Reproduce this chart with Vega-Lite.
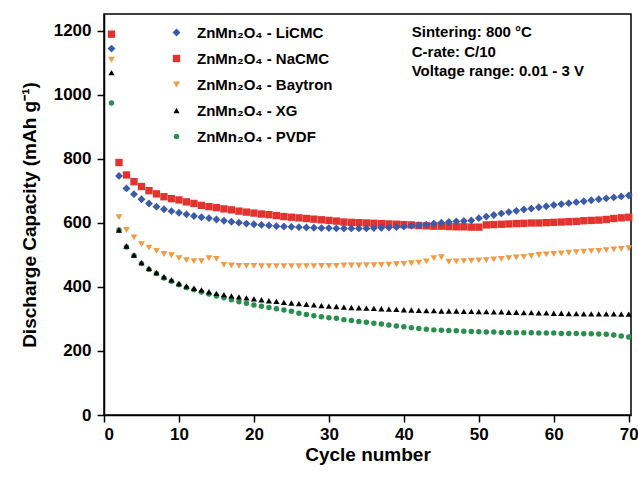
{
  "$schema": "https://vega.github.io/schema/vega-lite/v6.json",
  "width": 527,
  "height": 401,
  "autosize": {"type": "none"},
  "padding": {"left": 104, "top": 14, "right": 7, "bottom": 63},
  "background": "white",
  "data": {"values": [
    {"cycle":1,"LiCMC":1145,"NaCMC":1190,"Baytron":1110,"XG":1070,"PVDF":975},
    {"cycle":2,"LiCMC":747,"NaCMC":789,"Baytron":618,"XG":578,"PVDF":578},
    {"cycle":3,"LiCMC":708,"NaCMC":750,"Baytron":578,"XG":528,"PVDF":525},
    {"cycle":4,"LiCMC":690,"NaCMC":729,"Baytron":555,"XG":500,"PVDF":498},
    {"cycle":5,"LiCMC":674,"NaCMC":714,"Baytron":534,"XG":476,"PVDF":473},
    {"cycle":6,"LiCMC":661,"NaCMC":701,"Baytron":523,"XG":458,"PVDF":455},
    {"cycle":7,"LiCMC":651,"NaCMC":691,"Baytron":513,"XG":445,"PVDF":442},
    {"cycle":8,"LiCMC":643,"NaCMC":682,"Baytron":503,"XG":432,"PVDF":428},
    {"cycle":9,"LiCMC":637,"NaCMC":676,"Baytron":499,"XG":422,"PVDF":418},
    {"cycle":10,"LiCMC":632,"NaCMC":672,"Baytron":490,"XG":411,"PVDF":407},
    {"cycle":11,"LiCMC":627,"NaCMC":666,"Baytron":484,"XG":403,"PVDF":398},
    {"cycle":12,"LiCMC":622,"NaCMC":661,"Baytron":481,"XG":396,"PVDF":391},
    {"cycle":13,"LiCMC":618,"NaCMC":655,"Baytron":481,"XG":391,"PVDF":384},
    {"cycle":14,"LiCMC":615,"NaCMC":651,"Baytron":490,"XG":385,"PVDF":378},
    {"cycle":15,"LiCMC":611,"NaCMC":648,"Baytron":488,"XG":380,"PVDF":372},
    {"cycle":16,"LiCMC":607,"NaCMC":644,"Baytron":469,"XG":376,"PVDF":366},
    {"cycle":17,"LiCMC":604,"NaCMC":641,"Baytron":467,"XG":372,"PVDF":360},
    {"cycle":18,"LiCMC":601,"NaCMC":637,"Baytron":466,"XG":369,"PVDF":354},
    {"cycle":19,"LiCMC":598,"NaCMC":634,"Baytron":466,"XG":366,"PVDF":349},
    {"cycle":20,"LiCMC":596,"NaCMC":631,"Baytron":466,"XG":363,"PVDF":344},
    {"cycle":21,"LiCMC":594,"NaCMC":628,"Baytron":465,"XG":360,"PVDF":340},
    {"cycle":22,"LiCMC":592,"NaCMC":626,"Baytron":465,"XG":357,"PVDF":336},
    {"cycle":23,"LiCMC":590,"NaCMC":623,"Baytron":465,"XG":355,"PVDF":332},
    {"cycle":24,"LiCMC":589,"NaCMC":620,"Baytron":465,"XG":352,"PVDF":328},
    {"cycle":25,"LiCMC":588,"NaCMC":618,"Baytron":465,"XG":350,"PVDF":324},
    {"cycle":26,"LiCMC":587,"NaCMC":616,"Baytron":465,"XG":348,"PVDF":318},
    {"cycle":27,"LiCMC":586,"NaCMC":614,"Baytron":465,"XG":346,"PVDF":314},
    {"cycle":28,"LiCMC":585,"NaCMC":612,"Baytron":465,"XG":344,"PVDF":310},
    {"cycle":29,"LiCMC":584,"NaCMC":610,"Baytron":466,"XG":342,"PVDF":307},
    {"cycle":30,"LiCMC":584,"NaCMC":608,"Baytron":466,"XG":340,"PVDF":304},
    {"cycle":31,"LiCMC":583,"NaCMC":606,"Baytron":466,"XG":339,"PVDF":302},
    {"cycle":32,"LiCMC":583,"NaCMC":603,"Baytron":467,"XG":337,"PVDF":298},
    {"cycle":33,"LiCMC":583,"NaCMC":602,"Baytron":467,"XG":336,"PVDF":295},
    {"cycle":34,"LiCMC":583,"NaCMC":601,"Baytron":467,"XG":335,"PVDF":292},
    {"cycle":35,"LiCMC":583,"NaCMC":600,"Baytron":468,"XG":334,"PVDF":290},
    {"cycle":36,"LiCMC":584,"NaCMC":599,"Baytron":468,"XG":333,"PVDF":287},
    {"cycle":37,"LiCMC":585,"NaCMC":598,"Baytron":469,"XG":332,"PVDF":284},
    {"cycle":38,"LiCMC":586,"NaCMC":597,"Baytron":470,"XG":331,"PVDF":281},
    {"cycle":39,"LiCMC":587,"NaCMC":596,"Baytron":471,"XG":330,"PVDF":278},
    {"cycle":40,"LiCMC":589,"NaCMC":595,"Baytron":472,"XG":329,"PVDF":276},
    {"cycle":41,"LiCMC":591,"NaCMC":594,"Baytron":474,"XG":328,"PVDF":273},
    {"cycle":42,"LiCMC":593,"NaCMC":592,"Baytron":476,"XG":327,"PVDF":270},
    {"cycle":43,"LiCMC":595,"NaCMC":591,"Baytron":480,"XG":326,"PVDF":268},
    {"cycle":44,"LiCMC":598,"NaCMC":590,"Baytron":490,"XG":326,"PVDF":266},
    {"cycle":45,"LiCMC":601,"NaCMC":590,"Baytron":493,"XG":325,"PVDF":265},
    {"cycle":46,"LiCMC":603,"NaCMC":589,"Baytron":479,"XG":325,"PVDF":264},
    {"cycle":47,"LiCMC":605,"NaCMC":588,"Baytron":480,"XG":325,"PVDF":263},
    {"cycle":48,"LiCMC":606,"NaCMC":588,"Baytron":481,"XG":324,"PVDF":262},
    {"cycle":49,"LiCMC":608,"NaCMC":587,"Baytron":482,"XG":324,"PVDF":261},
    {"cycle":50,"LiCMC":615,"NaCMC":587,"Baytron":483,"XG":323,"PVDF":260},
    {"cycle":51,"LiCMC":620,"NaCMC":594,"Baytron":484,"XG":323,"PVDF":259},
    {"cycle":52,"LiCMC":625,"NaCMC":595,"Baytron":486,"XG":322,"PVDF":259},
    {"cycle":53,"LiCMC":630,"NaCMC":596,"Baytron":488,"XG":322,"PVDF":258},
    {"cycle":54,"LiCMC":634,"NaCMC":597,"Baytron":490,"XG":321,"PVDF":258},
    {"cycle":55,"LiCMC":638,"NaCMC":598,"Baytron":492,"XG":321,"PVDF":257},
    {"cycle":56,"LiCMC":642,"NaCMC":599,"Baytron":494,"XG":320,"PVDF":257},
    {"cycle":57,"LiCMC":645,"NaCMC":600,"Baytron":497,"XG":320,"PVDF":257},
    {"cycle":58,"LiCMC":649,"NaCMC":600,"Baytron":500,"XG":319,"PVDF":256},
    {"cycle":59,"LiCMC":652,"NaCMC":601,"Baytron":502,"XG":319,"PVDF":256},
    {"cycle":60,"LiCMC":656,"NaCMC":602,"Baytron":503,"XG":318,"PVDF":256},
    {"cycle":61,"LiCMC":659,"NaCMC":603,"Baytron":505,"XG":318,"PVDF":255},
    {"cycle":62,"LiCMC":662,"NaCMC":604,"Baytron":507,"XG":317,"PVDF":255},
    {"cycle":63,"LiCMC":665,"NaCMC":605,"Baytron":509,"XG":317,"PVDF":255},
    {"cycle":64,"LiCMC":668,"NaCMC":607,"Baytron":510,"XG":316,"PVDF":254},
    {"cycle":65,"LiCMC":671,"NaCMC":608,"Baytron":512,"XG":316,"PVDF":254},
    {"cycle":66,"LiCMC":674,"NaCMC":609,"Baytron":513,"XG":316,"PVDF":253},
    {"cycle":67,"LiCMC":677,"NaCMC":611,"Baytron":515,"XG":316,"PVDF":252},
    {"cycle":68,"LiCMC":680,"NaCMC":614,"Baytron":517,"XG":316,"PVDF":250},
    {"cycle":69,"LiCMC":683,"NaCMC":616,"Baytron":519,"XG":315,"PVDF":247},
    {"cycle":70,"LiCMC":686,"NaCMC":618,"Baytron":521,"XG":315,"PVDF":244}
  ]},
  "layer": [
    {
      "transform": [
        {"fold": ["PVDF", "XG", "Baytron", "NaCMC", "LiCMC"], "as": ["binder", "capacity"]}
      ],
      "mark": {"type": "point", "filled": true, "opacity": 1, "strokeWidth": 0},
      "encoding": {
        "x": {
          "field": "cycle", "type": "quantitative",
          "scale": {"domain": [0, 70.3], "nice": false, "zero": false},
          "axis": {
            "title": "Cycle number",
            "values": [0,5,10,15,20,25,30,35,40,45,50,55,60,65,70],
            "labelExpr": "datum.value % 10 === 0 ? datum.label : ''",
            "tickSize": {"condition": {"test": "datum.value % 10 === 0", "value": 7}, "value": 4},
            "labelPadding": 4,
            "titlePadding": 3
          }
        },
        "y": {
          "field": "capacity", "type": "quantitative",
          "scale": {"domain": [0, 1253], "nice": false},
          "axis": {
            "title": "Discharge Capacity (mAh g⁻¹)",
            "values": [0,100,200,300,400,500,600,700,800,900,1000,1100,1200],
            "labelExpr": "datum.value % 200 === 0 ? datum.label : ''",
            "tickSize": {"condition": {"test": "datum.value % 200 === 0", "value": 7}, "value": 4},
            "labelPadding": 6,
            "titlePadding": 14,
            "format": "d"
          }
        },
        "color": {
          "field": "binder", "type": "nominal",
          "scale": {
            "domain": ["LiCMC", "NaCMC", "Baytron", "XG", "PVDF"],
            "range": ["#3b5ba9", "#e2332f", "#f29a45", "#000000", "#2a8f4e"]
          },
          "legend": {
            "title": null,
            "orient": "none",
            "legendX": 65,
            "legendY": 11,
            "padding": 0,
            "symbolSize": 30,
            "symbolStrokeWidth": 0,
            "labelFont": "Liberation Sans",
            "labelFontSize": 15,
            "labelFontWeight": "bold",
            "labelColor": "#000000",
            "labelOffset": 13,
            "rowPadding": 10,
            "labelExpr": "'ZnMn₂O₄ - ' + datum.label"
          }
        },
        "shape": {
          "field": "binder", "type": "nominal",
          "scale": {
            "domain": ["LiCMC", "NaCMC", "Baytron", "XG", "PVDF"],
            "range": ["diamond", "square", "triangle-down", "triangle-up", "circle"]
          }
        },
        "size": {
          "field": "binder", "type": "nominal",
          "scale": {
            "domain": ["LiCMC", "NaCMC", "Baytron", "XG", "PVDF"],
            "range": [62, 30, 46, 46, 34]
          },
          "legend": null
        }
      }
    },
    {
      "data": {"values": [{"note": "Sintering: 800 °C\nC-rate: C/10\nVoltage range: 0.01 - 3 V"}]},
      "mark": {
        "type": "text", "align": "left", "baseline": "alphabetic",
        "lineBreak": "\n", "lineHeight": 19.2,
        "font": "Liberation Sans", "fontSize": 15, "fontWeight": "bold", "color": "#000000"
      },
      "encoding": {
        "x": {"datum": 41.05, "type": "quantitative"},
        "y": {"datum": 1180, "type": "quantitative"},
        "text": {"field": "note", "type": "nominal"}
      }
    }
  ],
  "config": {
    "view": {"stroke": "#000000", "strokeWidth": 1.5},
    "axis": {
      "grid": false,
      "domainColor": "#000000",
      "domainWidth": 1.5,
      "tickColor": "#000000",
      "tickWidth": 1.5,
      "labelFont": "Liberation Sans",
      "labelFontSize": 17,
      "labelFontWeight": "bold",
      "labelColor": "#000000",
      "titleFont": "Liberation Sans",
      "titleFontSize": 19,
      "titleFontWeight": "bold",
      "titleColor": "#000000"
    }
  }
}
